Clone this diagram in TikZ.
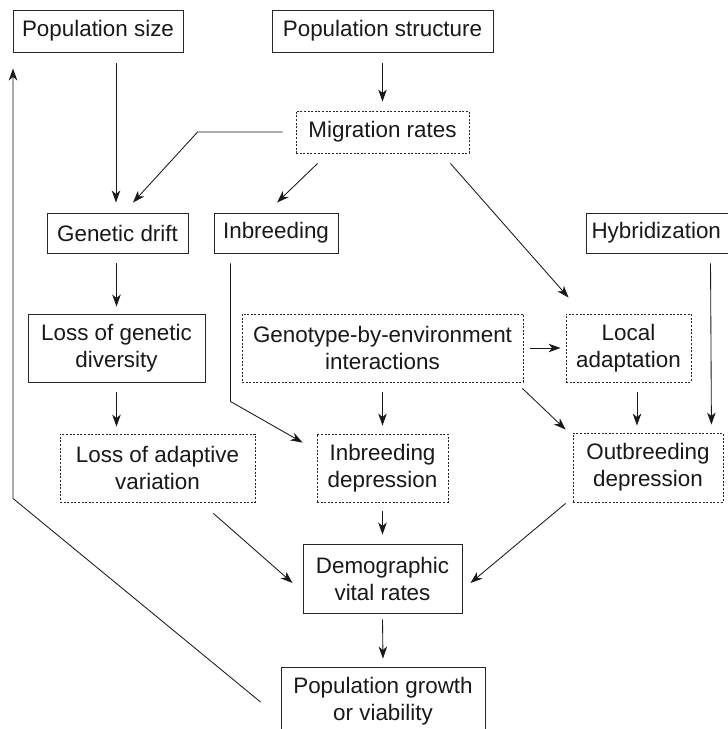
\documentclass[tikz,border=0pt]{standalone}
\usepackage{fontspec}
\setmainfont{Liberation Sans}
\usetikzlibrary{arrows.meta,calc}
\tikzset{
  box/.style={draw=black!85, line width=0.95pt, inner sep=0pt, align=center, minimum height=#1,
     text=black!90, font=\fontsize{22.4}{27}\selectfont},
  box/.default=40pt,
  dbox/.style={box=#1, line width=0.85pt, dash pattern=on 2pt off 1.6pt},
  dbox/.default=68pt,
  arr/.style={line width=0.85pt, draw=black!90, -{Stealth[length=12pt,width=8.5pt,inset=3.5pt]}},
}
\begin{document}
\begin{tikzpicture}[x=1pt,y=-1pt]
\clip (0,0) rectangle (728,729);
\fill[white] (0,0) rectangle (728,729);
% nodes
\node[box=42pt, minimum width=170pt] (psize) at (98,31) {Population size};
\node[box=42pt, minimum width=221pt] (pstruct) at (382.5,31) {Population structure};
\node[dbox=42pt, minimum width=173pt] (mig) at (382.5,132) {Migration rates};
\node[box=40pt, minimum width=141pt] (drift) at (117.5,233) {Genetic drift};
\node[box=40pt, minimum width=124pt] (inb) at (276,233) {Inbreeding};
\node[box=40pt, minimum width=152pt, text width=141pt, align=left] (hyb) at (662,233) {Hybridization};
\node[box=68pt, minimum width=177pt] (lgd) at (116.5,348) {Loss of genetic\\diversity};
\node[dbox=68pt, minimum width=281pt] (gxe) at (382.5,348) {Genotype-by-environment\\interactions};
\node[dbox=68pt, minimum width=125pt] (local) at (628.5,348) {Local\\adaptation};
\node[dbox=68pt, minimum width=195pt] (lav) at (157.5,468) {Loss of adaptive\\variation};
\node[dbox=68pt, minimum width=131pt] (ind) at (382.5,468) {Inbreeding\\depression};
\node[dbox=69pt, minimum width=150pt] (outd) at (648,467.5) {Outbreeding\\depression};
\node[box=69pt, minimum width=159pt] (demo) at (382.5,578.5) {Demographic\\vital rates};
\node[box=68pt, minimum width=204pt] (growth) at (383,701) {Population growth\\or viability};
% connectors
\draw[arr] ($(pstruct.south)+(0,11)$) -- ($(mig.north)+(0,-9)$);
\draw[arr] ($(psize.south -| drift.north)+(-1.5,11)$) -- ($(drift.north)+(-1.5,-10)$);
\draw[arr] ($(mig.west)+(-13,0)$) -- ($(mig.west)+(-98,0)$) -- ($(drift.north)+(15.5,-10)$);
\draw[arr] ($(mig.south west)+(22,10)$) -- ($(inb.north)+(1,-10)$);
\draw[arr] ($(mig.south east)+(-19,10)$) -- ($(local.north west)+(3,-16)$);
\draw[arr] ($(hyb.south west)+(125,10)$) -- ($(outd.north east)+(-12,-8)$);
\draw[arr] ($(drift.south)+(-1,10)$) -- ($(lgd.north)+(0,-7)$);
\draw[arr] ($(inb.south west)+(17,10)$) -- ($(inb.south west)+(17,148)$) -- ($(ind.north west)+(-14,9)$);
\draw[arr] ($(gxe.east)+(7,0)$) -- ($(local.west)+(-5,0)$);
\draw[arr] ($(gxe.south)+(0,10)$) -- ($(ind.north)+(0,-8)$);
\draw[arr] ($(gxe.south east)+(-1,6)$) -- ($(outd.north west)+(-7,-3)$);
\draw[arr] ($(local.south)+(8.5,10)$) -- ($(outd.north)+(-11,-7)$);
\draw[arr] ($(lgd.south)+(0,10)$) -- ($(lgd.south |- lav.north)+(0,-7)$);
\draw[arr] ($(lav.south east)+(-42,11)$) -- ($(demo.west)+(-10,4.5)$);
\draw[arr] ($(ind.south)+(0,9)$) -- ($(demo.north)+(0,-9)$);
\draw[arr] ($(outd.south west)+(-7,1)$) -- ($(demo.east)+(8,4.5)$);
\draw[arr] ($(demo.south)+(0,6)$) -- ($(growth.north)+(0,-8)$);
\draw[arr] ($(growth.west)+(-20,1)$) -- ($(psize.south west)+(0.5,446)$) -- ($(psize.south west)+(0.5,16)$);
\end{tikzpicture}
\end{document}
